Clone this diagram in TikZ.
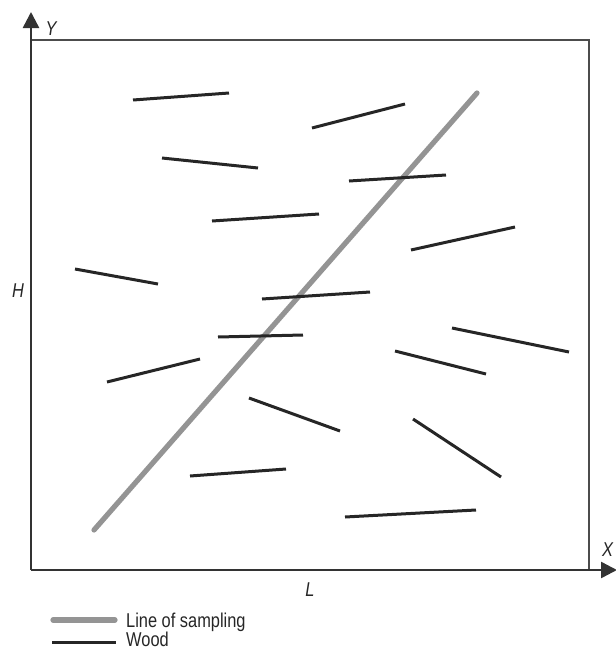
\documentclass[tikz,border=0pt]{standalone}
\usepackage{fontspec}
\setmainfont{Liberation Sans}
\newfontfamily\narrowsans[FakeStretch=0.82]{Liberation Sans}
\usetikzlibrary{arrows.meta}
\begin{document}
\begin{tikzpicture}[x=1pt,y=-1pt,
  wood/.style={line width=3pt,draw=black!85},
  sampling/.style={line width=5.2pt,draw=black!42,line cap=round},
  axis/.style={line width=2.5pt,draw=black!80,-{Triangle[length=16pt,width=16pt]}},
  lbl/.style={font=\narrowsans\fontsize{20}{22}\selectfont\itshape,text=black!85,inner sep=0pt},
  legtxt/.style={font=\narrowsans\fontsize{20}{22}\selectfont,text=black!85,anchor=base west,inner sep=0pt}]
\useasboundingbox (0,0) rectangle (616,651);
% frame
\draw[line width=1.4pt,draw=black!70] (31,40) -- (589,40) -- (589,570);
% axes
\coordinate (O) at (31,570);
\draw[axis] (O) -- (31,12);
\draw[axis] (O) -- (617,570);
\node[lbl] (Y) at (51,28.5) {Y};
\node[lbl] (X) at (607.5,550) {X};
\node[lbl] (H) at (18,290.5) {H};
\node[lbl] (L) at (310,589.5) {L};
% sampling line
\draw[sampling] (94,530) -- (477,93);
% wood pieces
\foreach \a/\b/\c/\d in {133/100/229/93, 312/128/405/104, 162/158/258/168,
  349/181/446/175, 212/221/319/214, 411/250/515/227, 75/269/158/284,
  262/299/370/292, 218/337/303/335, 452/328/569/352, 107/382/200/359,
  395/351/486/374, 249/398/340/431, 413/419/501/477, 190/476/286/469,
  345/517/476/510}
  \draw[wood] (\a,\b) -- (\c,\d);
% legend
\draw[sampling] (53,620) -- (115,620);
\node[legtxt] (l1) at (126,627) {Line of sampling};
\draw[wood] (52,642) -- (116,642);
\node[legtxt] (l2) at (126,646.5) {Wood};
\end{tikzpicture}
\end{document}
